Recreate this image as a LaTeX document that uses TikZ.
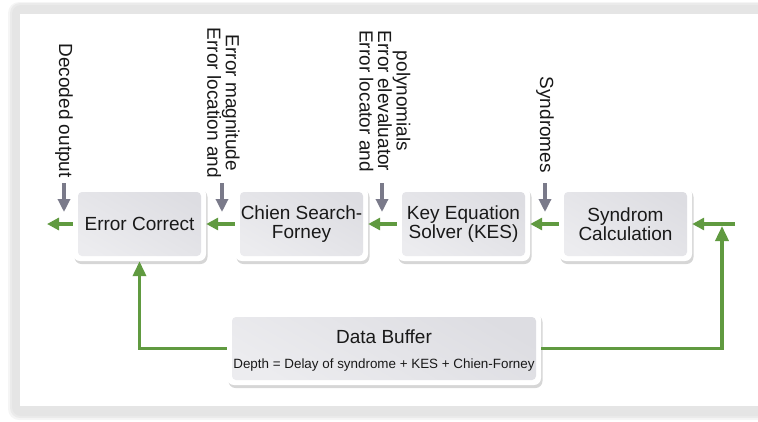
\documentclass[tikz,border=0pt]{standalone}
\usepackage{fontspec}
\setmainfont{Liberation Sans}
\usetikzlibrary{arrows.meta,shadows}
\definecolor{grn}{RGB}{96,154,64}
\definecolor{garr}{RGB}{122,122,138}
\definecolor{framec}{RGB}{229,229,229}
\definecolor{txt}{RGB}{25,25,25}
\definecolor{ina}{RGB}{236,236,239}
\definecolor{inb}{RGB}{246,246,248}
\definecolor{inc}{RGB}{221,221,226}
\tikzset{
  blk/.style={fill=white, rounded corners=7pt, inner sep=0pt, align=center,
    font=\fontsize{19}{18.5}\selectfont, text=txt,
    drop shadow={shadow xshift=1.5pt, shadow yshift=-3pt, opacity=0.16, fill=black},
    path picture={\shade[top color=ina, middle color=inb, bottom color=inc, shading angle=150, rounded corners=4pt]
      ([xshift=5pt,yshift=-5pt]path picture bounding box.north west) rectangle
      ([xshift=-5pt,yshift=5pt]path picture bounding box.south east);}},
  garrow/.style={draw=garr, line width=3.2pt, -{Triangle[length=13pt,width=12pt]}},
  farrow/.style={draw=grn, line width=3.5pt, -{Triangle[length=12pt,width=12pt]}},
  fbarrow/.style={draw=grn, line width=3.5pt, -{Triangle[length=15pt,width=13pt]}},
  lbl/.style={rotate=-90, anchor=east, inner sep=0pt, align=center,
    font=\fontsize{19}{18.5}\selectfont, text=txt},
}
\begin{document}
\begin{tikzpicture}[x=1pt,y=-1pt]
\clip (0,0) rectangle (758,421);
\fill[white] (0,0) rectangle (758,421);
% frame
\fill[black, opacity=0.04, rounded corners=11pt] (8,2) rectangle (800,420);
\fill[black, opacity=0.04, rounded corners=10pt] (10,3) rectangle (800,418);
\fill[framec, rounded corners=9pt] (12,5) rectangle (800,416);
\fill[white] (20,14) rectangle (800,406);
% blocks
\node[blk, minimum width=133pt, minimum height=74pt] (ec) at (139.5,224) {Error Correct};
\node[blk, minimum width=133pt, minimum height=74pt] (cs) at (301.5,224) {Chien Search-\\Forney};
\node[blk, minimum width=133pt, minimum height=74pt] (kes) at (463.5,224) {Key Equation\\Solver (KES)};
\node[blk, minimum width=133pt, minimum height=74pt] (sc) at (625.5,224) {Syndrom\\Calculation};
\node[blk, minimum width=314pt, minimum height=73pt] (db) at (384,348.5) {};
\node[anchor=base, inner sep=0pt, font=\fontsize{19}{19}\selectfont, text=txt] (dbt) at (384,343) {Data Buffer};
\node[anchor=base, inner sep=0pt, font=\fontsize{13.4}{14}\selectfont, text=txt] (dbs) at (384,368) {Depth = Delay of syndrome + KES + Chien-Forney};
% green flow
\coordinate (out) at (47,224);
\coordinate (in) at (735,224);
\coordinate (up) at (722,226);
\draw[farrow] (ec.west) -- (out);
\draw[farrow] (cs.west) -- (ec.east);
\draw[farrow] (kes.west) -- (cs.east);
\draw[farrow] (sc.west) -- (kes.east);
\draw[farrow] (in) -- (sc.east);
\draw[fbarrow] (db.east) -| (up);
\draw[fbarrow] (db.west) -| (ec.south);
% labels
\node[lbl] (l1) at (64,178) {Decoded output};
\node[lbl] (l2) at (223.5,178) {Error magnitude\\Error location and};
\node[lbl] (l3) at (385,172) {polynomials\\Error elevaluator\\Error locator and};
\node[lbl] (l4) at (545,173) {Syndromes};
\coordinate (g1s) at (64,183);  \coordinate (g1e) at (64,212);
\coordinate (g2s) at (222,183); \coordinate (g2e) at (222,212);
\coordinate (g3s) at (382,183); \coordinate (g3e) at (382,212);
\coordinate (g4s) at (545,183); \coordinate (g4e) at (545,212);
\draw[garrow] (g1s) -- (g1e);
\draw[garrow] (g2s) -- (g2e);
\draw[garrow] (g3s) -- (g3e);
\draw[garrow] (g4s) -- (g4e);
\end{tikzpicture}
\end{document}
